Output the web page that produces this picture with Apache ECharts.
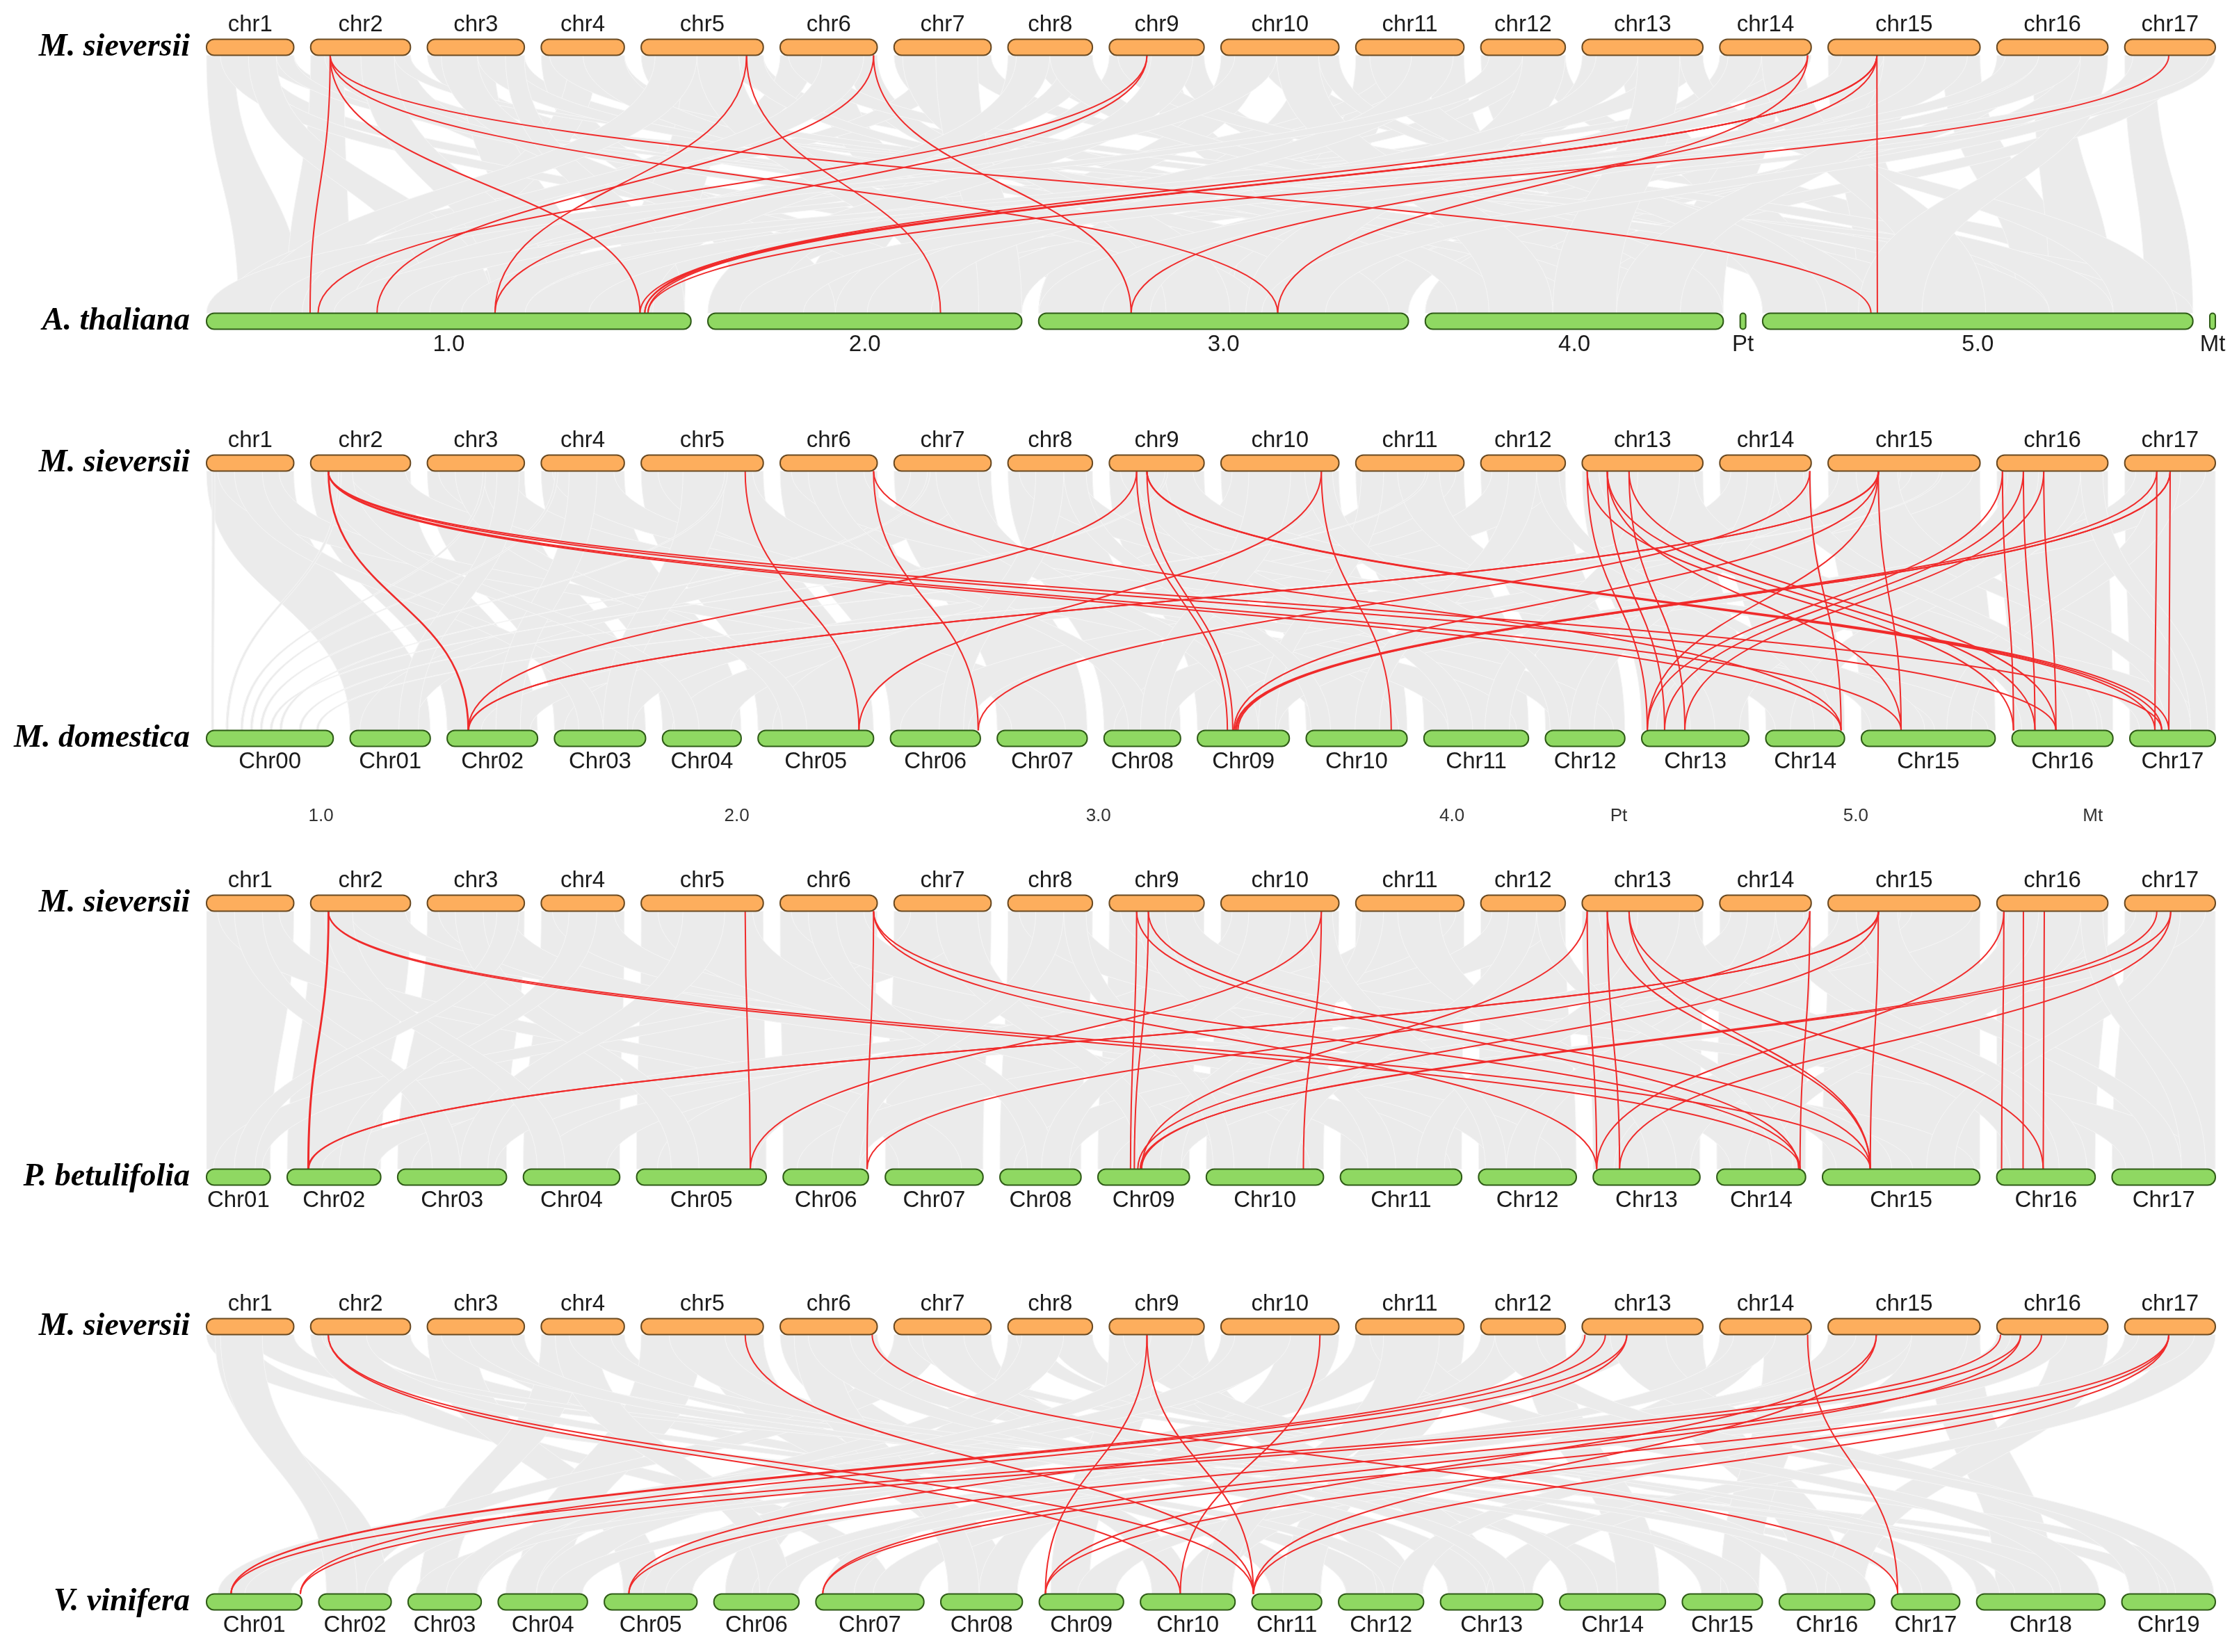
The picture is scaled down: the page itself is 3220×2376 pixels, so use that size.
<!DOCTYPE html>
<html>
<head>
<meta charset="utf-8">
<script src="https://cdn.jsdelivr.net/npm/echarts/dist/echarts.min.js"></script>
<style>
  html, body { margin: 0; padding: 0; background: #fff; }
  #chart { width: 3220px; height: 2376px; }
</style>
</head>
<body>
<div id="chart"></div>
<script>
// chromosome names and lengths (Mb)
const msChrs = ['chr1','chr2','chr3','chr4','chr5','chr6','chr7','chr8','chr9','chr10','chr11','chr12','chr13','chr14','chr15','chr16','chr17'];
const msLens = [31.3, 35.8, 34.8, 29.8, 43.8, 34.8, 34.8, 30.3, 34.0, 42.3, 38.8, 30.3, 43.3, 32.8, 54.5, 39.8, 32.5];

const athChrs = ['1.0','2.0','3.0','4.0','Pt','5.0','Mt'];
const athLens = [30.4, 19.7, 23.2, 18.7, 0.35, 27.0, 0.35];

const mdChrs = ['Chr00','Chr01','Chr02','Chr03','Chr04','Chr05','Chr06','Chr07','Chr08','Chr09','Chr10','Chr11','Chr12','Chr13','Chr14','Chr15','Chr16','Chr17'];
const mdLens = [52.0, 32.9, 37.1, 37.4, 32.3, 47.4, 36.9, 36.9, 31.4, 37.7, 41.4, 42.9, 32.6, 44.0, 32.3, 54.9, 41.4, 35.1];

const pbChrs = ['Chr01','Chr02','Chr03','Chr04','Chr05','Chr06','Chr07','Chr08','Chr09','Chr10','Chr11','Chr12','Chr13','Chr14','Chr15','Chr16','Chr17'];
const pbLens = [18.4, 27.0, 31.4, 27.8, 37.4, 24.6, 28.2, 23.4, 26.4, 33.8, 35.0, 28.2, 30.8, 25.6, 45.4, 28.4, 29.8];

const vvChrs = ['Chr01','Chr02','Chr03','Chr04','Chr05','Chr06','Chr07','Chr08','Chr09','Chr10','Chr11','Chr12','Chr13','Chr14','Chr15','Chr16','Chr17','Chr18','Chr19'];
const vvLens = [24.9, 18.9, 19.1, 23.3, 24.2, 22.2, 28.2, 21.3, 22.0, 24.7, 18.2, 22.2, 26.7, 27.6, 20.9, 24.9, 17.8, 33.5, 24.4];

// stray label row between panel 2 and 3
const strayLabels = ['1.0','2.0','3.0','4.0','Pt','5.0','Mt'];
const strayPos = [0.057, 0.264, 0.444, 0.620, 0.703, 0.821, 0.939];

// highlighted (red) gene pairs: [M. sieversii chr, Mb, other chr, Mb]
const p1Links = [
  ['chr2',7.0,'1.0',6.5], ['chr2',7.0,'1.0',27.2], ['chr2',7.0,'3.0',15.0], ['chr2',7.0,'5.0',6.8],
  ['chr5',37.8,'1.0',18.1], ['chr5',37.8,'2.0',14.6],
  ['chr6',33.5,'1.0',10.7], ['chr6',33.5,'3.0',5.8],
  ['chr9',13.5,'1.0',7.0], ['chr9',13.5,'1.0',18.1],
  ['chr14',31.5,'1.0',27.5], ['chr14',31.5,'3.0',15.0],
  ['chr15',17.5,'1.0',27.2], ['chr15',17.5,'1.0',27.5], ['chr15',17.5,'1.0',27.7],
  ['chr15',17.5,'5.0',7.2], ['chr15',17.5,'3.0',5.8],
  ['chr17',15.8,'1.0',27.7]
];
const p2Links = [
  ['chr2',6.3,'Chr02',8.6], ['chr2',6.5,'Chr02',8.8], ['chr2',6.3,'Chr14',30.9], ['chr2',6.3,'Chr15',16.3],
  ['chr2',6.3,'Chr16',18.0], ['chr2',6.3,'Chr17',13.1],
  ['chr5',37.3,'Chr05',41.4],
  ['chr6',33.5,'Chr06',36.0], ['chr6',33.5,'Chr14',30.9],
  ['chr9',9.8,'Chr09',12.3], ['chr9',13.5,'Chr09',14.5], ['chr9',9.8,'Chr02',8.6],
  ['chr9',13.5,'Chr17',10.3], ['chr9',13.5,'Chr17',13.1], ['chr9',13.5,'Chr17',16.0],
  ['chr10',36.0,'Chr10',34.9], ['chr10',36.0,'Chr05',41.4],
  ['chr13',1.8,'Chr13',2.3], ['chr13',9.0,'Chr13',9.4], ['chr13',16.8,'Chr13',17.7],
  ['chr13',1.8,'Chr16',0.6], ['chr13',9.0,'Chr16',9.4], ['chr13',16.8,'Chr16',18.0], ['chr13',9.0,'Chr15',16.3],
  ['chr14',32.3,'Chr14',30.9], ['chr14',32.3,'Chr06',36.0],
  ['chr15',18.0,'Chr15',16.3], ['chr15',18.0,'Chr02',8.6], ['chr15',18.2,'Chr02',8.8],
  ['chr15',18.0,'Chr09',15.0], ['chr15',18.0,'Chr13',2.3],
  ['chr16',2.0,'Chr16',0.6], ['chr16',9.5,'Chr16',9.4], ['chr16',16.8,'Chr16',18.0],
  ['chr16',2.0,'Chr13',2.3], ['chr16',9.5,'Chr13',9.4], ['chr16',16.8,'Chr13',17.7],
  ['chr17',11.5,'Chr17',10.3], ['chr17',16.3,'Chr17',16.0],
  ['chr17',11.5,'Chr09',15.5], ['chr17',16.3,'Chr09',16.0], ['chr17',16.3,'Chr09',16.6]
];
const p3Links = [
  ['chr2',6.3,'Chr02',6.0], ['chr2',6.5,'Chr02',6.2], ['chr2',6.3,'Chr14',24.0], ['chr2',6.3,'Chr15',13.8],
  ['chr5',37.3,'Chr05',32.8],
  ['chr6',33.5,'Chr06',24.2], ['chr6',33.5,'Chr13',1.0], ['chr6',33.5,'Chr14',24.0],
  ['chr9',9.8,'Chr09',9.4], ['chr9',14.0,'Chr09',10.5], ['chr9',14.0,'Chr15',13.8], ['chr9',9.8,'Chr14',23.6],
  ['chr10',36.0,'Chr10',28.0], ['chr10',36.0,'Chr05',32.8],
  ['chr13',1.8,'Chr13',1.0], ['chr13',9.0,'Chr13',7.6], ['chr13',1.8,'Chr09',12.6],
  ['chr13',9.0,'Chr15',13.8], ['chr13',16.8,'Chr15',13.8], ['chr13',16.8,'Chr16',13.4],
  ['chr14',32.3,'Chr14',24.0], ['chr14',32.3,'Chr06',24.2],
  ['chr15',18.0,'Chr15',13.8], ['chr15',18.0,'Chr02',6.0], ['chr15',18.2,'Chr02',6.2], ['chr15',18.0,'Chr09',11.5],
  ['chr16',2.5,'Chr16',1.4], ['chr16',9.5,'Chr16',7.6], ['chr16',17.0,'Chr16',13.4], ['chr16',2.5,'Chr13',1.0],
  ['chr17',11.5,'Chr09',12.6], ['chr17',16.5,'Chr09',12.2], ['chr17',16.5,'Chr13',7.6]
];
const p4Links = [
  ['chr2',6.3,'Chr10',10.4], ['chr2',6.3,'Chr11',0.4],
  ['chr5',37.3,'Chr11',0.4],
  ['chr6',33.0,'Chr17',1.6],
  ['chr9',13.5,'Chr09',1.6], ['chr9',13.5,'Chr11',0.4],
  ['chr10',35.5,'Chr10',10.4],
  ['chr13',1.0,'Chr01',6.4], ['chr13',8.3,'Chr01',6.4], ['chr13',16.0,'Chr01',24.5], ['chr13',16.0,'Chr05',6.4],
  ['chr14',31.5,'Chr17',1.6],
  ['chr15',17.3,'Chr09',1.6], ['chr15',17.3,'Chr11',0.4],
  ['chr16',1.3,'Chr01',6.4], ['chr16',8.5,'Chr01',24.5], ['chr16',16.0,'Chr05',6.4], ['chr16',8.5,'Chr07',1.8],
  ['chr17',15.8,'Chr07',1.8], ['chr17',15.8,'Chr09',1.6], ['chr17',15.8,'Chr11',0.4]
];

// background collinear blocks: [M. sieversii chr, start, end, other chr, start, end]
const p1Gray = [
  ['chr1',0,10,'1.0',2,6], ['chr1',10,20,'3.0',2,6], ['chr1',20,31.3,'5.0',20,25],
  ['chr2',0,12,'1.0',5,9], ['chr2',12,24,'4.0',8,12], ['chr2',24,35.8,'2.0',10,14],
  ['chr3',0,12,'3.0',15,20], ['chr3',12,24,'1.0',20,24], ['chr3',24,34.8,'5.0',2,6],
  ['chr4',0,10,'2.0',2,6], ['chr4',10,20,'1.0',12,16], ['chr4',20,29.8,'4.0',14,18],
  ['chr5',0,15,'3.0',5,9], ['chr5',15,30,'1.0',26,30], ['chr5',30,43.8,'5.0',10,14],
  ['chr6',0,12,'1.0',9,12], ['chr6',12,24,'2.0',15,19], ['chr6',24,34.8,'3.0',10,14],
  ['chr7',0,12,'4.0',2,6], ['chr7',12,24,'1.0',1,4], ['chr7',24,34.8,'5.0',15,19],
  ['chr8',0,10,'2.0',6,10], ['chr8',10,20,'5.0',5,9], ['chr8',20,30.3,'1.0',17,20],
  ['chr9',0,12,'1.0',22,26], ['chr9',12,24,'3.0',19,23], ['chr9',24,34,'4.0',10,14],
  ['chr10',0,14,'2.0',12,16], ['chr10',14,28,'5.0',22,26], ['chr10',28,42.3,'3.0',0,4],
  ['chr11',0,13,'3.0',12,16], ['chr11',13,26,'1.0',15,18], ['chr11',26,38.8,'4.0',5,9],
  ['chr12',0,10,'4.0',11,15], ['chr12',10,20,'2.0',0,3], ['chr12',20,30.3,'5.0',12,16],
  ['chr13',0,14,'3.0',7,11], ['chr13',14,28,'5.0',0,4], ['chr13',28,43.3,'1.0',24,28],
  ['chr14',0,11,'2.0',16,19.7], ['chr14',11,22,'4.0',15,18.7], ['chr14',22,32.8,'1.0',6,10],
  ['chr15',0,14,'5.0',6,10], ['chr15',14,28,'3.0',17,21], ['chr15',28,41,'2.0',4,8], ['chr15',41,54.5,'5.0',16,20],
  ['chr16',0,13,'4.0',0,4], ['chr16',13,26,'5.0',18,22], ['chr16',26,39.8,'3.0',20,23.2],
  ['chr17',0,11,'5.0',24,27], ['chr17',11,22,'4.0',6,10], ['chr17',22,32.5,'2.0',8,12],
  ['chr1',5,15,'2.0',12,16], ['chr1',15,25,'1.0',14,18], ['chr1',25,31.3,'4.0',10,13],
  ['chr2',5,18,'3.0',10,14], ['chr2',18,30,'1.0',18,22], ['chr2',30,35.8,'5.0',24,27],
  ['chr3',5,18,'2.0',4,8], ['chr3',18,30,'4.0',12,16], ['chr3',28,34.8,'1.0',27,30],
  ['chr4',3,15,'5.0',8,12], ['chr4',15,29.8,'3.0',18,22],
  ['chr5',5,20,'1.0',3,7], ['chr5',20,35,'2.0',14,18], ['chr5',35,43.8,'4.0',2,5],
  ['chr6',3,15,'5.0',14,18], ['chr6',15,30,'1.0',6,9],
  ['chr7',3,15,'3.0',8,12], ['chr7',15,30,'2.0',17,19.7],
  ['chr8',3,15,'1.0',24,28], ['chr8',15,30.3,'4.0',16,18.7],
  ['chr9',3,15,'5.0',18,22], ['chr9',15,30,'2.0',0,4],
  ['chr10',5,20,'1.0',10,14], ['chr10',20,35,'4.0',4,8], ['chr10',35,42.3,'5.0',4,7],
  ['chr11',5,20,'5.0',0,4], ['chr11',20,35,'2.0',8,12],
  ['chr12',3,15,'1.0',0,4], ['chr12',15,30.3,'3.0',13,17],
  ['chr13',5,20,'2.0',10,14], ['chr13',20,35,'4.0',8,12], ['chr13',35,43.3,'5.0',22,26],
  ['chr14',3,15,'3.0',3,7], ['chr14',15,30,'5.0',10,14],
  ['chr15',5,20,'1.0',16,20], ['chr15',20,35,'4.0',12,16], ['chr15',35,50,'3.0',0,4],
  ['chr16',3,15,'1.0',20,24], ['chr16',15,30,'2.0',2,6], ['chr16',30,39.8,'5.0',6,10],
  ['chr17',3,15,'3.0',14,18], ['chr17',15,30,'1.0',8,12]
];
const p2Gray = [
  ['chr1',0,31.3,'Chr01',0,32.9], ['chr2',0,35.8,'Chr02',0,37.1], ['chr3',0,34.8,'Chr03',0,37.4],
  ['chr4',0,29.8,'Chr04',0,32.3], ['chr5',0,43.8,'Chr05',0,47.4], ['chr6',0,34.8,'Chr06',0,36.9],
  ['chr7',0,34.8,'Chr07',0,36.9], ['chr8',0,30.3,'Chr08',0,31.4], ['chr9',0,34.0,'Chr09',0,37.7],
  ['chr10',0,42.3,'Chr10',0,41.4], ['chr11',0,38.8,'Chr11',0,42.9], ['chr12',0,30.3,'Chr12',0,32.6],
  ['chr13',0,43.3,'Chr13',0,44.0], ['chr14',0,32.8,'Chr14',0,32.3], ['chr15',0,54.5,'Chr15',0,54.9],
  ['chr16',0,39.8,'Chr16',0,41.4], ['chr17',0,32.5,'Chr17',0,35.1],
  ['chr1',4,26,'Chr07',6,28], ['chr7',6,28,'Chr01',4,26],
  ['chr2',14,34,'Chr15',30,52], ['chr15',30,52,'Chr02',14,34],
  ['chr3',4,30,'Chr11',10,38], ['chr11',10,36,'Chr03',4,32],
  ['chr4',4,26,'Chr12',4,28], ['chr12',4,28,'Chr04',4,28],
  ['chr5',6,40,'Chr10',4,38], ['chr10',4,38,'Chr05',6,42],
  ['chr6',4,30,'Chr14',4,28], ['chr14',4,28,'Chr06',4,32],
  ['chr8',4,26,'Chr15',4,26], ['chr15',4,26,'Chr08',4,27],
  ['chr9',4,30,'Chr17',4,31], ['chr17',4,29,'Chr09',4,33],
  ['chr13',6,40,'Chr16',4,37], ['chr16',4,36,'Chr13',6,40],
  ['chr1',10,20,'Chr03',10,20], ['chr3',10,20,'Chr05',10,20], ['chr4',10,20,'Chr02',20,30],
  ['chr5',15,30,'Chr03',20,30], ['chr6',10,20,'Chr08',10,20], ['chr7',15,30,'Chr09',15,25],
  ['chr8',10,20,'Chr06',20,30], ['chr9',10,20,'Chr11',10,20], ['chr10',10,25,'Chr08',15,25],
  ['chr11',15,30,'Chr13',20,30], ['chr12',10,20,'Chr10',20,30], ['chr13',20,35,'Chr11',25,35],
  ['chr14',10,20,'Chr12',10,20], ['chr15',10,25,'Chr17',15,25], ['chr16',15,30,'Chr14',10,20],
  ['chr17',10,20,'Chr15',35,45], ['chr2',5,15,'Chr04',5,15], ['chr3',25,33,'Chr01',20,28],
  ['chr11',2,10,'Chr09',25,32], ['chr12',20,28,'Chr14',20,28], ['chr14',20,30,'Chr16',25,35],
  ['chr16',30,38,'Chr17',25,32], ['chr10',30,40,'Chr12',2,10], ['chr8',20,28,'Chr10',2,10],
  ['chr1',2,3,'Chr00',2,3], ['chr2',10,11,'Chr00',8,9], ['chr4',5,6,'Chr00',18,19],
  ['chr3',20,21,'Chr00',14,15], ['chr5',30,31,'Chr00',22,23], ['chr9',20,21,'Chr00',26,27],
  ['chr7',12,13,'Chr00',30,31], ['chr11',25,26,'Chr00',38,39], ['chr15',40,41,'Chr00',45,46]
];
const p3Gray = [
  ['chr1',0,31.3,'Chr01',0,18.4], ['chr2',0,35.8,'Chr02',0,27.0], ['chr3',0,34.8,'Chr03',0,31.4],
  ['chr4',0,29.8,'Chr04',0,27.8], ['chr5',0,43.8,'Chr05',0,37.4], ['chr6',0,34.8,'Chr06',0,24.6],
  ['chr7',0,34.8,'Chr07',0,28.2], ['chr8',0,30.3,'Chr08',0,23.4], ['chr9',0,34.0,'Chr09',0,26.4],
  ['chr10',0,42.3,'Chr10',0,33.8], ['chr11',0,38.8,'Chr11',0,35.0], ['chr12',0,30.3,'Chr12',0,28.2],
  ['chr13',0,43.3,'Chr13',0,30.8], ['chr14',0,32.8,'Chr14',0,25.6], ['chr15',0,54.5,'Chr15',0,45.4],
  ['chr16',0,39.8,'Chr16',0,28.4], ['chr17',0,32.5,'Chr17',0,29.8],
  ['chr1',4,26,'Chr07',4,22], ['chr7',6,28,'Chr01',2,16],
  ['chr2',14,34,'Chr15',26,44], ['chr15',30,52,'Chr02',10,26],
  ['chr3',4,30,'Chr11',8,32], ['chr11',10,36,'Chr03',4,28],
  ['chr4',4,26,'Chr12',4,24], ['chr12',4,28,'Chr04',4,24],
  ['chr5',6,40,'Chr10',4,30], ['chr10',4,38,'Chr05',6,34],
  ['chr6',4,30,'Chr14',4,22], ['chr14',4,28,'Chr06',4,22],
  ['chr8',4,26,'Chr15',4,20], ['chr15',4,26,'Chr08',4,20],
  ['chr9',4,30,'Chr17',4,26], ['chr17',4,29,'Chr09',4,24],
  ['chr13',6,40,'Chr16',4,26], ['chr16',4,36,'Chr13',6,28],
  ['chr1',10,20,'Chr03',10,18], ['chr3',10,20,'Chr05',10,18], ['chr4',10,20,'Chr02',15,22],
  ['chr5',15,30,'Chr03',18,26], ['chr6',10,20,'Chr08',8,16], ['chr7',15,30,'Chr09',12,20],
  ['chr8',10,20,'Chr06',14,22], ['chr9',10,20,'Chr11',8,16], ['chr10',10,25,'Chr08',12,20],
  ['chr11',15,30,'Chr13',16,24], ['chr12',10,20,'Chr10',18,26], ['chr13',20,35,'Chr11',22,30],
  ['chr14',10,20,'Chr12',8,16], ['chr15',10,25,'Chr17',12,20], ['chr16',15,30,'Chr14',8,16],
  ['chr17',10,20,'Chr15',30,38], ['chr2',5,15,'Chr04',4,12], ['chr3',25,33,'Chr01',8,14],
  ['chr11',2,10,'Chr09',18,24], ['chr12',20,28,'Chr14',16,22], ['chr14',20,30,'Chr16',18,26],
  ['chr16',30,38,'Chr17',20,27], ['chr10',30,40,'Chr12',2,8], ['chr8',20,28,'Chr10',2,8]
];
const p4Gray = [
  ['chr1',0,15,'Chr12',2,12], ['chr1',15,31.3,'Chr19',5,15],
  ['chr2',0,18,'Chr07',10,20], ['chr2',18,35.8,'Chr17',3,12],
  ['chr3',0,17,'Chr05',5,15], ['chr3',17,34.8,'Chr11',5,15],
  ['chr4',0,15,'Chr03',3,12], ['chr4',15,29.8,'Chr14',10,20],
  ['chr5',0,22,'Chr04',5,18], ['chr5',22,43.8,'Chr08',5,18],
  ['chr6',0,17,'Chr10',3,13], ['chr6',17,34.8,'Chr15',5,15],
  ['chr7',0,17,'Chr02',3,13], ['chr7',17,34.8,'Chr12',10,20],
  ['chr8',0,15,'Chr06',3,13], ['chr8',15,30.3,'Chr17',8,16],
  ['chr9',0,17,'Chr09',3,13], ['chr9',17,34,'Chr13',5,15],
  ['chr10',0,21,'Chr04',10,22], ['chr10',21,42.3,'Chr08',10,20],
  ['chr11',0,19,'Chr05',10,22], ['chr11',19,38.8,'Chr11',8,18],
  ['chr12',0,15,'Chr03',8,18], ['chr12',15,30.3,'Chr14',15,26],
  ['chr13',0,22,'Chr01',3,15], ['chr13',22,43.3,'Chr16',5,17],
  ['chr14',0,16,'Chr10',10,22], ['chr14',16,32.8,'Chr15',10,20],
  ['chr15',0,18,'Chr06',10,20], ['chr15',18,36,'Chr07',15,27], ['chr15',36,54.5,'Chr18',5,20],
  ['chr16',0,20,'Chr01',10,22], ['chr16',20,39.8,'Chr16',12,22],
  ['chr17',0,16,'Chr09',10,20], ['chr17',16,32.5,'Chr13',12,24],
  ['chr7',5,15,'Chr19',12,22], ['chr2',4,14,'Chr18',20,32], ['chr1',3,12,'Chr02',10,18], ['chr8',3,12,'Chr18',0,6],
  ['chr1',5,20,'Chr02',2,10], ['chr2',5,20,'Chr12',12,20], ['chr3',5,20,'Chr18',10,20],
  ['chr4',5,20,'Chr06',12,20], ['chr5',10,30,'Chr13',2,12], ['chr6',5,20,'Chr08',2,10],
  ['chr7',10,25,'Chr14',2,10], ['chr8',5,20,'Chr04',2,10], ['chr9',5,20,'Chr16',2,10],
  ['chr10',5,25,'Chr02',12,18], ['chr11',5,25,'Chr18',22,32], ['chr12',5,20,'Chr07',2,10],
  ['chr13',10,30,'Chr19',2,10], ['chr14',5,20,'Chr05',16,23], ['chr15',10,30,'Chr03',2,10],
  ['chr15',30,50,'Chr12',14,22], ['chr16',5,25,'Chr06',14,22], ['chr17',5,25,'Chr04',14,22],
  ['chr11',10,30,'Chr10',16,24], ['chr12',5,20,'Chr19',14,24], ['chr3',15,30,'Chr15',12,20],
  ['chr4',10,25,'Chr16',16,24], ['chr6',10,25,'Chr13',14,22], ['chr9',15,30,'Chr03',10,18]
];

// ---- layout helpers ----
const GAP = 0.0084;     // gap between chromosomes, fraction of row width
const BAR_H = 23;       // chromosome bar height in px

function makeLayout(names, lens) {
  const total = lens.reduce((a, b) => a + b, 0);
  const scale = (1 - GAP * (names.length - 1)) / total;
  const starts = {};
  let pos = 0;
  names.forEach((n, i) => { starts[n] = pos; pos += lens[i] * scale + GAP; });
  return { names, lens, scale, starts };
}
const xOf = (lay, chr, mb) => lay.starts[chr] + mb * lay.scale;

const msLay = makeLayout(msChrs, msLens);
const panels = [
  { species: 'A. thaliana', lay: makeLayout(athChrs, athLens), links: p1Links, gray: p1Gray },
  { species: 'M. domestica', lay: makeLayout(mdChrs, mdLens), links: p2Links, gray: p2Gray },
  { species: 'P. betulifolia', lay: makeLayout(pbChrs, pbLens), links: p3Links, gray: p3Gray },
  { species: 'V. vinifera', lay: makeLayout(vvChrs, vvLens), links: p4Links, gray: p4Gray }
];
const rowTop = [68, 666, 1299, 1908];
const rowH = [394, 396, 394, 396];

function ends(api) {
  const y0 = api.coord([0, 0])[1] + BAR_H / 2;
  const y1 = api.coord([0, 1])[1] - BAR_H / 2;
  return [y0, y1, (y0 + y1) / 2];
}

function grayItem(p) {
  return function (params, api) {
    const g = p.gray[params.dataIndex];
    const [y0, y1, ym] = ends(api);
    const a1 = api.coord([xOf(msLay, g[0], g[1]), 0])[0];
    const a2 = api.coord([xOf(msLay, g[0], g[2]), 0])[0];
    const b1 = api.coord([xOf(p.lay, g[3], g[4]), 1])[0];
    const b2 = api.coord([xOf(p.lay, g[3], g[5]), 1])[0];
    const d = `M${a1} ${y0} L${a2} ${y0} C${a2} ${ym} ${b2} ${ym} ${b2} ${y1} ` +
              `L${b1} ${y1} C${b1} ${ym} ${a1} ${ym} ${a1} ${y0} Z`;
    return { type: 'path', shape: { pathData: d },
      style: { fill: '#ebebeb', stroke: '#f6f6f6', lineWidth: 1 } };
  };
}

function linkItem(p) {
  return function (params, api) {
    const l = p.links[params.dataIndex];
    const [y0, y1, ym] = ends(api);
    const x1 = api.coord([xOf(msLay, l[0], l[1]), 0])[0];
    const x2 = api.coord([xOf(p.lay, l[2], l[3]), 1])[0];
    return { type: 'bezierCurve',
      shape: { x1: x1, y1: y0, x2: x2, y2: y1, cpx1: x1, cpy1: ym, cpx2: x2, cpy2: ym },
      style: { stroke: '#f02b2b', lineWidth: 2, fill: null } };
  };
}

function barItem(p) {
  return function (params, api) {
    const k = api.value(0), row = api.value(1);
    const lay = row === 0 ? msLay : p.lay;
    const name = lay.names[k];
    const s = api.coord([xOf(lay, name, 0), row]);
    const e = api.coord([xOf(lay, name, lay.lens[k]), row]);
    const w = e[0] - s[0];
    const yc = s[1];
    const top = row === 0;
    return { type: 'group', children: [
      { type: 'rect',
        shape: { x: s[0], y: yc - BAR_H / 2, width: w, height: BAR_H, r: Math.min(11, w / 2) },
        style: { fill: top ? '#fdae5d' : '#8fd862', stroke: top ? '#6a4a22' : '#2f5c17', lineWidth: 2 } },
      { type: 'text',
        style: { text: name, x: s[0] + w / 2, y: top ? yc - 32 : yc + 34,
          textAlign: 'center', textVerticalAlign: 'middle', align: 'center', verticalAlign: 'middle',
          font: '33px "Liberation Sans", Arial, sans-serif', fill: '#1b1b1b' } }
    ] };
  };
}

const grids = [], xAxes = [], yAxes = [], series = [];
panels.forEach((p, i) => {
  grids.push({ left: 297, right: 34, top: rowTop[i], height: rowH[i] });
  xAxes.push({ type: 'value', gridIndex: i, min: 0, max: 1, show: false });
  yAxes.push({ type: 'value', gridIndex: i, min: 0, max: 1, interval: 1, inverse: true,
    axisLine: { show: false }, axisTick: { show: false }, splitLine: { show: false },
    axisLabel: { show: true, showMinLabel: true, showMaxLabel: true, margin: 24,
      formatter: v => (v === 0 ? 'M. sieversii' : p.species),
      fontFamily: '"Liberation Serif", "Times New Roman", serif', fontWeight: 'bold',
      fontStyle: 'italic', fontSize: 46, color: '#000' } });
  series.push({ type: 'custom', xAxisIndex: i, yAxisIndex: i, z: 1, silent: true,
    renderItem: grayItem(p), data: p.gray.map((_, k) => [k, 0]) });
  series.push({ type: 'custom', xAxisIndex: i, yAxisIndex: i, z: 3, silent: true,
    renderItem: linkItem(p), data: p.links.map((_, k) => [k, 0]) });
  series.push({ type: 'custom', xAxisIndex: i, yAxisIndex: i, z: 5, silent: true,
    renderItem: barItem(p),
    data: msChrs.map((_, k) => [k, 0]).concat(p.lay.names.map((_, k) => [k, 1])) });
});

// small label row under the M. domestica panel
grids.push({ left: 297, right: 34, top: 1173, height: 1 });
xAxes.push({ type: 'value', gridIndex: 4, min: 0, max: 1, show: false });
yAxes.push({ type: 'value', gridIndex: 4, min: 0, max: 1, show: false });
series.push({ type: 'custom', xAxisIndex: 4, yAxisIndex: 4, silent: true,
  data: strayPos.map((x, k) => [x, 0, k]),
  renderItem: function (params, api) {
    const pt = api.coord([api.value(0), 0]);
    return { type: 'text', style: { text: strayLabels[params.dataIndex], x: pt[0], y: pt[1],
      textAlign: 'center', textVerticalAlign: 'middle', align: 'center', verticalAlign: 'middle',
      font: '26px "Liberation Sans", Arial, sans-serif', fill: '#333' } };
  } });

const chart = echarts.init(document.getElementById('chart'));
chart.setOption({
  backgroundColor: '#ffffff',
  animation: false,
  grid: grids,
  xAxis: xAxes,
  yAxis: yAxes,
  series: series
});
</script>
</body>
</html>
